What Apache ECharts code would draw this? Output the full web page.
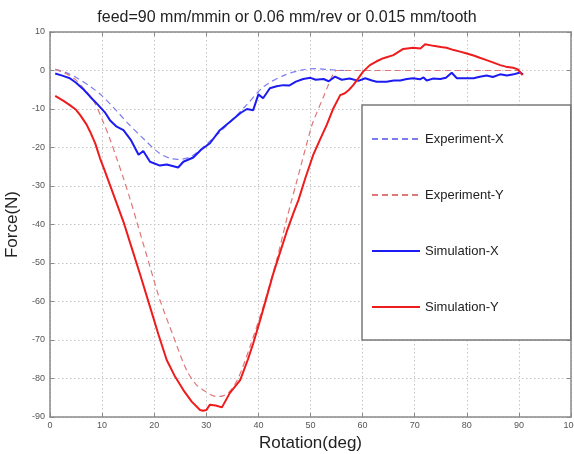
<!DOCTYPE html>
<html>
<head>
<meta charset="utf-8">
<script src="https://cdn.jsdelivr.net/npm/echarts@6/dist/echarts.min.js"></script>
<style>html,body{margin:0;padding:0;background:#fff}#c{width:574px;height:454px}</style>
</head>
<body>
<div id="c"></div>
<script>
const titleText = 'feed=90 mm/mmin or 0.06 mm/rev or 0.015 mm/tooth';
const xName = 'Rotation(deg)';
const yName = 'Force(N)';
const seriesNames = ['Experiment-X', 'Experiment-Y', 'Simulation-X', 'Simulation-Y'];
const xMin = 0, xMax = 100, xStep = 10;
const yMin = -90, yMax = 10, yStep = 10;

// [rotation deg, force N]
const expX = [[1,0.3],[3,-0.5],[5,-1.8],[8,-4.4],[10,-6.6],[12.8,-10.5],[15,-13.8],[18,-17.8],[21,-21.5],[23,-22.8],[24.5,-23.1],[27,-22.4],[30,-19.2],[34,-14.2],[37.7,-9.0],[41,-4.2],[45,-1.2],[48.6,0.2],[51,0.5],[53,0.3],[55,0.1],[56.5,0]];
const expY = [[1,0.3],[3,-0.8],[5,-2.5],[6.4,-4.6],[8.3,-7.7],[10.2,-13.3],[11.5,-17.8],[12.8,-22.8],[14.1,-28],[15.4,-33.5],[16.6,-39],[19.2,-51],[21.1,-59.6],[23.7,-69.1],[26.2,-77.8],[28,-81.5],[29.4,-83.0],[31,-84.3],[32,-84.7],[33.2,-84.5],[34.2,-83.8],[35.8,-80.8],[37,-77],[38.4,-71.7],[40.9,-61.4],[43.5,-49.2],[45.4,-38.8],[46.4,-33.6],[47.4,-28.6],[49.9,-15.9],[50.5,-13.3],[52.5,-6.8],[53.5,-3.5],[54.4,-0.8],[55,0],[60,0],[70,0],[80,0],[89.8,0],[90.7,-1.2]];
const simX = [[1,-0.8],[2.5,-1.4],[3.8,-2.0],[5,-3.2],[6.5,-5.0],[7.7,-6.8],[9,-8.6],[10.5,-10.8],[11.5,-12.9],[12.8,-14.6],[14.1,-15.5],[15.5,-18.0],[17,-21.9],[17.9,-20.9],[19.2,-23.7],[21.1,-24.7],[22.4,-24.4],[23.5,-24.8],[24.6,-25.2],[25.6,-23.7],[27.5,-22.6],[29,-20.6],[30.7,-18.9],[32.6,-15.5],[34.5,-13.4],[36.5,-11.1],[37.8,-10.0],[39,-10.3],[40,-6.2],[40.9,-7.2],[42.2,-4.6],[43.5,-4.1],[44.8,-3.8],[45.9,-3.9],[47.2,-2.9],[48.6,-2.2],[50,-1.9],[51,-2.4],[52.5,-2.2],[53.5,-2.8],[54.7,-1.6],[56,-2.4],[57.5,-2.1],[59.2,-2.7],[60.5,-2.0],[61.8,-2.6],[62.7,-2.9],[64.6,-2.9],[66,-2.6],[67.2,-2.6],[68.5,-2.2],[69.7,-2.0],[71.0,-2.3],[71.7,-1.8],[72.3,-2.6],[73.5,-2.1],[74.9,-2.2],[76,-1.9],[77.1,-0.6],[78.1,-2.0],[79.5,-2.0],[81.3,-2.0],[82.5,-1.6],[83.8,-1.3],[85,-1.7],[86.4,-1.0],[87.7,-1.3],[89,-1.0],[90.2,-0.5],[90.8,-1.0]];
const simY = [[1,-6.6],[2.6,-7.9],[3.8,-9.0],[5,-10.2],[5.8,-11.6],[7,-14],[7.7,-15.9],[8.7,-19],[9.6,-22.8],[10.5,-26],[11.5,-29.7],[12.8,-34.5],[14.1,-39.3],[15.5,-45.3],[17.3,-53],[19.2,-61.4],[20.8,-68.5],[22.4,-75.2],[24,-79.5],[25.6,-83.0],[27.2,-86],[28.8,-88.2],[29.4,-88.4],[30.0,-88.2],[30.7,-86.8],[31.8,-87.0],[33.0,-87.5],[34.5,-83.8],[36.5,-80.4],[38,-75],[39,-70.9],[40.3,-65],[41.6,-58.8],[42.8,-53],[44.1,-47.5],[45.4,-42],[46.7,-37.1],[47.7,-33.6],[49,-28],[50.5,-22],[51.8,-18],[53.1,-14.2],[54.4,-9.8],[55.7,-6.4],[56.6,-5.9],[57.4,-5.0],[58.2,-3.8],[59.2,-2.0],[60.1,-0.3],[61.4,1.4],[62.7,2.4],[64,3.2],[65.9,4.0],[67.8,5.6],[69.7,5.9],[71.1,5.7],[72,6.8],[73.6,6.4],[75,6.1],[76.1,5.9],[77.5,5.3],[78.7,4.9],[80,4.4],[81.3,3.9],[82.5,3.3],[83.8,2.7],[85,2.1],[86.4,1.4],[87.5,1.0],[88.9,0.7],[89.8,0.3],[90.7,-1.2]];

const FONT = '"Liberation Sans", Arial, sans-serif';
const axisGrey = '#8a8a8a';
const gridLine = {show: true, lineStyle: {color: '#c4c4c4', type: [1.5, 2.5], width: 1}};
const chart = echarts.init(document.getElementById('c'), null, {renderer: 'canvas'});

function baseX(pos, labels) {
  return {
    type: 'value', min: xMin, max: xMax, interval: xStep, position: pos,
    axisLine: {show: true, onZero: false, lineStyle: {color: axisGrey, width: 1.5}},
    axisTick: {show: true, inside: true, length: 4, lineStyle: {color: axisGrey}},
    axisLabel: {show: labels, fontSize: 9, color: '#555', margin: 4, fontFamily: FONT},
    splitLine: labels ? gridLine : {show: false}
  };
}
function baseY(pos, labels) {
  return {
    type: 'value', min: yMin, max: yMax, interval: yStep, position: pos,
    axisLine: {show: true, onZero: false, lineStyle: {color: axisGrey, width: 1.5}},
    axisTick: {show: true, inside: true, length: 4, lineStyle: {color: axisGrey}},
    axisLabel: {show: labels, fontSize: 9, color: '#555', margin: 5, fontFamily: FONT},
    splitLine: labels ? gridLine : {show: false}
  };
}
const xa0 = baseX('bottom', true);
Object.assign(xa0, {name: xName, nameLocation: 'middle', nameGap: 14,
  nameTextStyle: {fontSize: 17, color: '#222', fontFamily: FONT}});
const ya0 = baseY('left', true);
Object.assign(ya0, {name: yName, nameLocation: 'middle', nameGap: 27,
  nameTextStyle: {fontSize: 17, color: '#222', fontFamily: FONT}});
const xa1 = baseX('top', false);
const ya1 = baseY('right', false);

function line(name, data, color, width, dashed) {
  return {
    name, type: 'line', data, xAxisIndex: 0, yAxisIndex: 0,
    symbol: 'none', showSymbol: false, smooth: dashed ? 0.3 : false,
    lineStyle: {color, width, type: dashed ? [6, 4] : 'solid'},
    itemStyle: {color}, animation: false
  };
}

chart.setOption({
  backgroundColor: '#fff',
  animation: false,
  title: {text: titleText, left: 'center', top: 5,
    textStyle: {fontSize: 16, fontWeight: 'normal', color: '#222', fontFamily: FONT}},
  grid: {left: 50, right: 3, top: 32, bottom: 37, containLabel: false, outerBoundsMode: 'none'},
  xAxis: [xa0, xa1],
  yAxis: [ya0, ya1],
  legend: {
    data: seriesNames, orient: 'vertical', left: 362, top: 105,
    padding: [27, 67, 26, 9], itemGap: 42, itemWidth: 48, itemHeight: 14,
    backgroundColor: '#fff', borderColor: '#7a7a7a', borderWidth: 1.5,
    itemStyle: {opacity: 0},
    textStyle: {fontSize: 13, color: '#222', fontFamily: FONT, lineHeight: 14},
    selectedMode: false
  },
  series: [
    line(seriesNames[0], expX, '#7c7cf0', 1.2, true),
    line(seriesNames[1], expY, '#e07878', 1.2, true),
    line(seriesNames[2], simX, '#1c1cf2', 2, false),
    line(seriesNames[3], simY, '#ee1c1c', 2, false)
  ]
});
</script>
</body>
</html>
